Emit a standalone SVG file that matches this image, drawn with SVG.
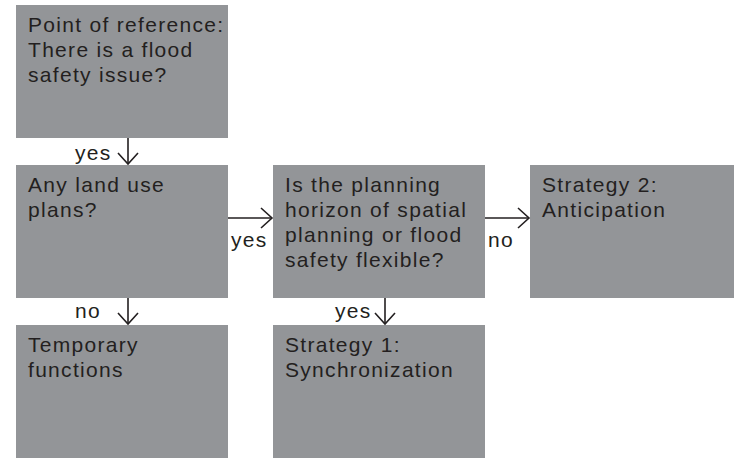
<svg xmlns="http://www.w3.org/2000/svg" width="734" height="458" viewBox="0 0 734 458">
<style>
.box{fill:#939598}
.t,.lbl{font-family:"Liberation Sans",Arial,sans-serif;font-size:21px;letter-spacing:1.3px;fill:#231f20}
.c{stroke:#231f20;stroke-width:1.6;fill:none}
</style>
<defs>
<marker id="ah" markerUnits="userSpaceOnUse" viewBox="-12 -11 14 22" refX="0" refY="0" markerWidth="14" markerHeight="22" orient="auto" overflow="visible">
<path d="M-11,-10 L0,0 L-11,10" fill="none" stroke="#231f20" stroke-width="1.6"/>
</marker>
</defs>
<g id="n1"><rect class="box" x="16" y="5" width="212" height="133"/><text class="t" x="28" y="32">Point of reference:<tspan x="28" dy="25">There is a flood</tspan><tspan x="28" dy="25">safety issue?</tspan></text></g>
<g id="n2"><rect class="box" x="16" y="165" width="212" height="133"/><text class="t" x="28" y="192">Any land use<tspan x="28" dy="25">plans?</tspan></text></g>
<g id="n3"><rect class="box" x="273" y="165" width="212" height="133"/><text class="t" x="285" y="192">Is the planning<tspan x="285" dy="25">horizon of spatial</tspan><tspan x="285" dy="25">planning or flood</tspan><tspan x="285" dy="25">safety flexible?</tspan></text></g>
<g id="n4"><rect class="box" x="530" y="165" width="204" height="133"/><text class="t" x="542" y="192">Strategy 2:<tspan x="542" dy="25">Anticipation</tspan></text></g>
<g id="n5"><rect class="box" x="16" y="325" width="212" height="133"/><text class="t" x="28" y="352">Temporary<tspan x="28" dy="25">functions</tspan></text></g>
<g id="n6"><rect class="box" x="273" y="325" width="212" height="133"/><text class="t" x="285" y="352">Strategy 1:<tspan x="285" dy="25">Synchronization</tspan></text></g>
<g id="connectors">
<line class="c" x1="128" y1="138" x2="128" y2="164" marker-end="url(#ah)"/>
<text class="lbl" x="75" y="160">yes</text>
<line class="c" x1="228" y1="218" x2="272" y2="218" marker-end="url(#ah)"/>
<text class="lbl" x="231" y="247">yes</text>
<line class="c" x1="485" y1="218" x2="529" y2="218" marker-end="url(#ah)"/>
<text class="lbl" x="488" y="247">no</text>
<line class="c" x1="128" y1="298" x2="128" y2="324" marker-end="url(#ah)"/>
<text class="lbl" x="75" y="318">no</text>
<line class="c" x1="385" y1="298" x2="385" y2="324" marker-end="url(#ah)"/>
<text class="lbl" x="335" y="318">yes</text>
</g>
</svg>
